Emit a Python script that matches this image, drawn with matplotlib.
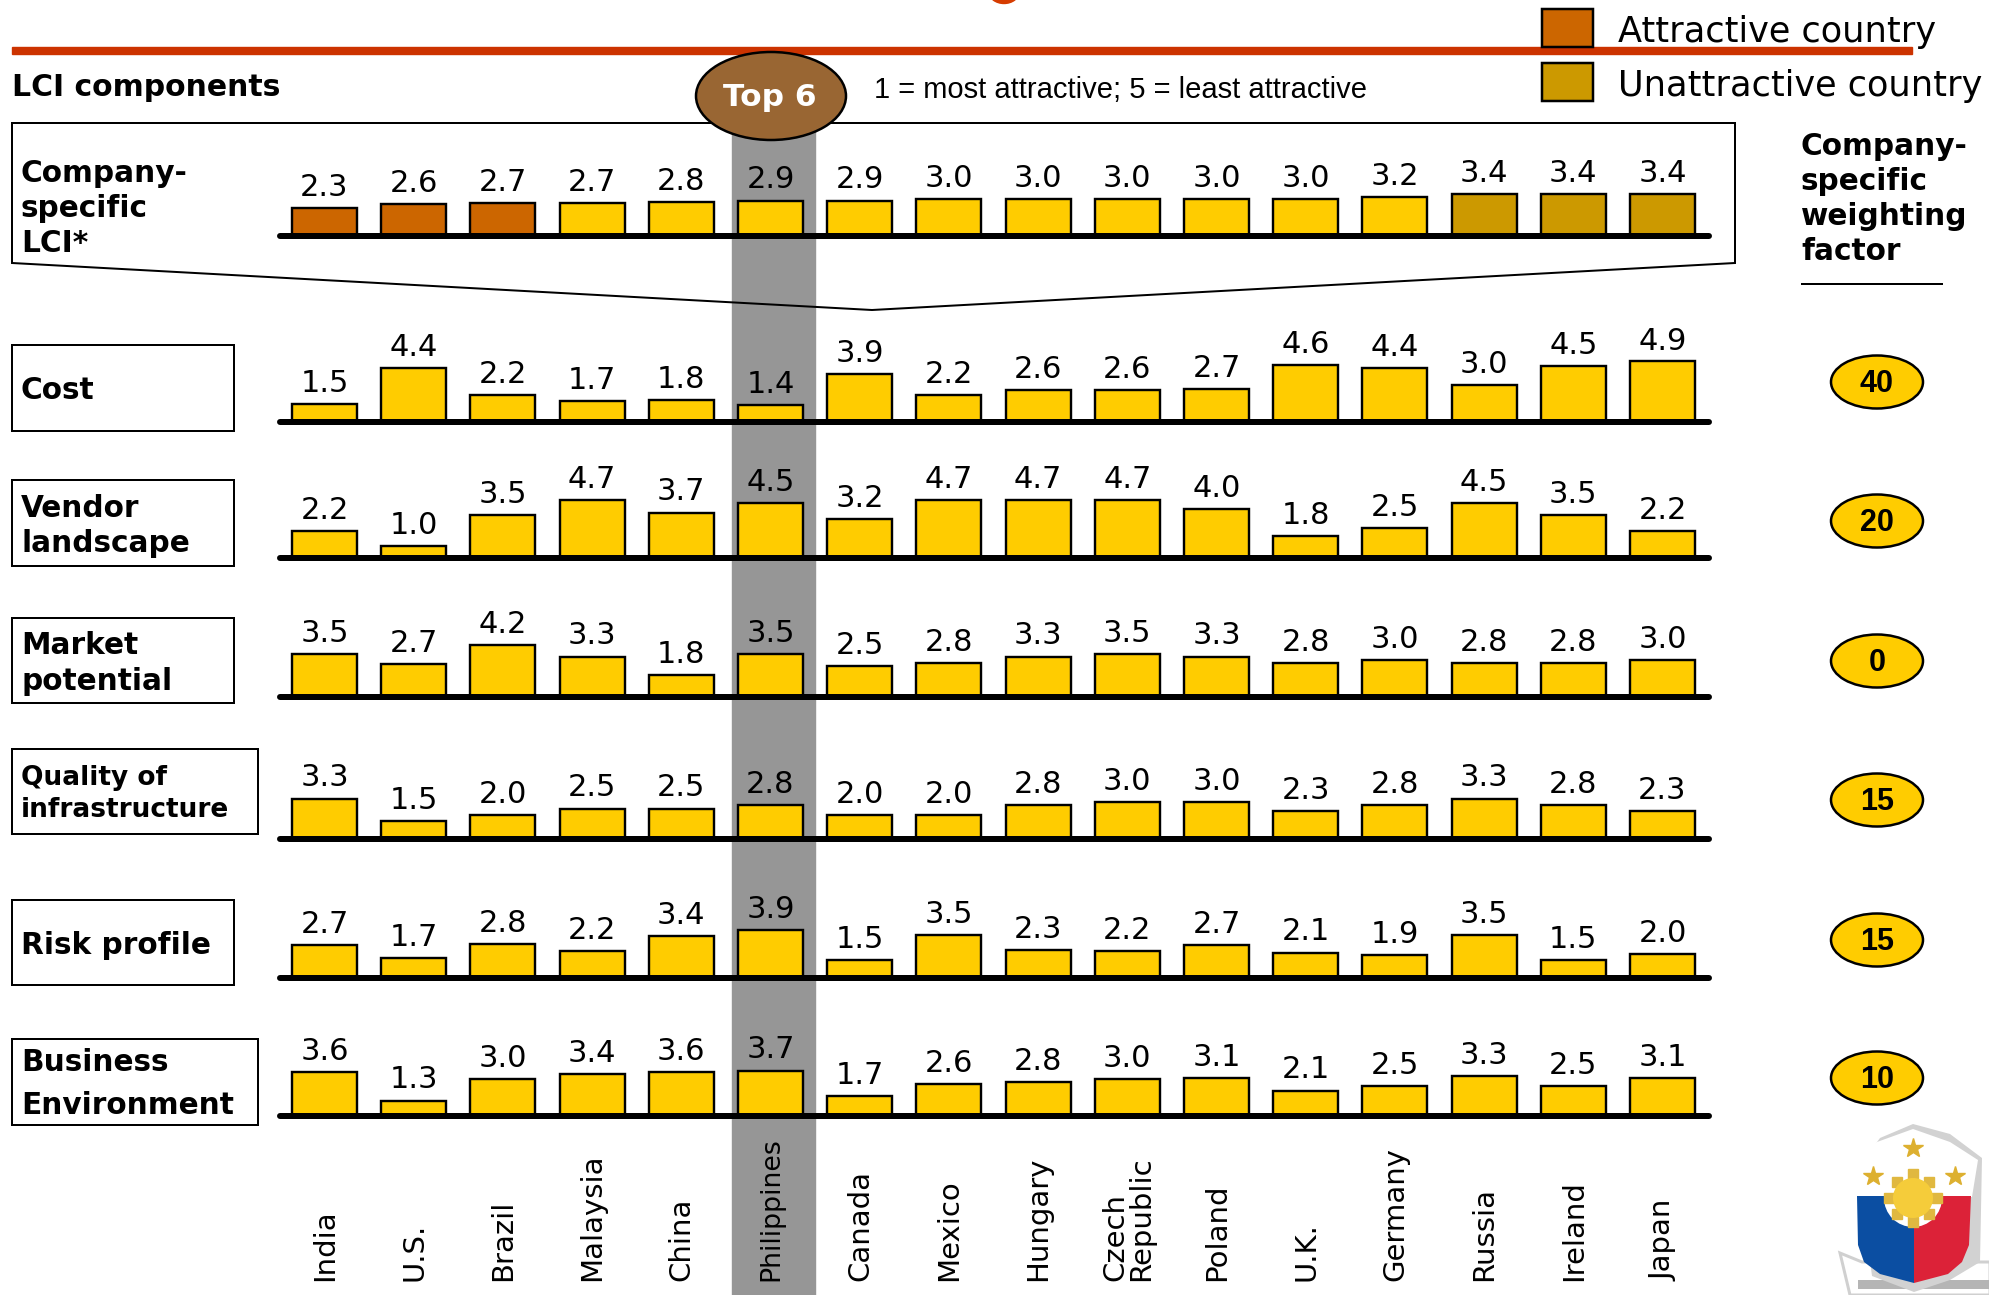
import matplotlib
matplotlib.use('Agg')
import matplotlib.pyplot as plt
from matplotlib.patches import Ellipse, Polygon, Rectangle, Circle

countries = ['India', 'U.S.', 'Brazil', 'Malaysia', 'China', 'Philippines', 'Canada', 'Mexico',
             'Hungary', 'Czech\nRepublic', 'Poland', 'U.K.', 'Germany', 'Russia', 'Ireland', 'Japan']
attractive = ['India', 'U.S.', 'Brazil']
unattractive = ['Russia', 'Ireland', 'Japan']

lci = [2.3, 2.6, 2.7, 2.7, 2.8, 2.9, 2.9, 3.0, 3.0, 3.0, 3.0, 3.0, 3.2, 3.4, 3.4, 3.4]
cost = [1.5, 4.4, 2.2, 1.7, 1.8, 1.4, 3.9, 2.2, 2.6, 2.6, 2.7, 4.6, 4.4, 3.0, 4.5, 4.9]
vendor = [2.2, 1.0, 3.5, 4.7, 3.7, 4.5, 3.2, 4.7, 4.7, 4.7, 4.0, 1.8, 2.5, 4.5, 3.5, 2.2]
market = [3.5, 2.7, 4.2, 3.3, 1.8, 3.5, 2.5, 2.8, 3.3, 3.5, 3.3, 2.8, 3.0, 2.8, 2.8, 3.0]
infra = [3.3, 1.5, 2.0, 2.5, 2.5, 2.8, 2.0, 2.0, 2.8, 3.0, 3.0, 2.3, 2.8, 3.3, 2.8, 2.3]
risk = [2.7, 1.7, 2.8, 2.2, 3.4, 3.9, 1.5, 3.5, 2.3, 2.2, 2.7, 2.1, 1.9, 3.5, 1.5, 2.0]
business = [3.6, 1.3, 3.0, 3.4, 3.6, 3.7, 1.7, 2.6, 2.8, 3.0, 3.1, 2.1, 2.5, 3.3, 2.5, 3.1]
weights = ['40', '20', '0', '15', '15', '10']

YELLOW = '#FFCC00'
ORANGE = '#CC6600'
DARK = '#CC9900'
W, H = 1990, 1295
PT = 72 / 100  # one pixel in points

fig = plt.figure(figsize=(W / 100, H / 100), dpi=100)
bg = fig.add_axes([0, 0, 1, 1])
bg.set_xlim(0, W)
bg.set_ylim(H, 0)
bg.axis('off')


def bars(values, base, colors=None):
    # base is the pixel row of the thick axis line
    ax = fig.add_axes([280 / W, 1 - (base - 3) / H, (1709 - 280) / W, 90 / H])
    ax.patch.set_alpha(0)
    ax.set_xlim((280 - 324.5) / 89.2, (1709 - 324.5) / 89.2)
    ax.set_ylim(0.3, 0.3 + 90 / 12.5)
    for s in ['top', 'left', 'right']:
        ax.spines[s].set_visible(False)
    ax.spines['bottom'].set_linewidth(6 * PT)
    ax.spines['bottom'].set_capstyle('round')
    ax.spines['bottom'].set_position(('outward', 3 * PT))
    ax.set_xticks([])
    ax.set_yticks([])
    ax.bar(range(len(values)), values, width=0.73, color=colors or YELLOW,
           edgecolor='black', linewidth=2.4 * PT)
    for i, v in enumerate(values):
        ax.annotate('%.1f' % v, (i, v), xytext=(0, 12 * PT), textcoords='offset points',
                    ha='center', va='baseline', fontsize=22, color='black', annotation_clip=False)


# band and rules
bg.add_patch(Rectangle((732, 130), 83, H - 130, color='#969696', zorder=1))
bg.add_patch(Rectangle((12, 47), 1900, 6.5, color='#CC3300', zorder=2))
bg.add_patch(Ellipse((1004, -8), 30, 23, color='#D63C00', zorder=2))

# company specific box
bg.add_patch(Polygon([(12, 123), (1735, 123), (1735, 263), (872, 310), (12, 263)],
                     closed=True, fill=False, edgecolor='black', linewidth=2 * PT, zorder=2))
bg.add_patch(Ellipse((771, 96), 150, 88, facecolor='#996633', edgecolor='black',
                     linewidth=2.5 * PT, zorder=3))
bg.text(770, 98, 'Top 6', color='white', fontsize=22.5, fontweight='bold', ha='center', va='center', zorder=4)
bg.text(874, 98, '1 = most attractive; 5 = least attractive', family='Liberation Sans',
        fontsize=21, va='baseline', zorder=4)
bg.text(12, 96, 'LCI components', fontsize=21.5, fontweight='bold', va='baseline', zorder=4)

# legend
for y, c, t in [(9, ORANGE, 'Attractive country'), (63, DARK, 'Unattractive country')]:
    bg.add_patch(Rectangle((1542, y), 51, 38, facecolor=c, edgecolor='black', linewidth=2.5 * PT, zorder=4))
    bg.text(1618, y + 33, t, fontsize=25.3, va='baseline', zorder=4)

# row labels
boxes = [(12, 345, 222, 86), (12, 480, 222, 86), (12, 618, 222, 85),
         (12, 749, 246, 85), (12, 900, 222, 85), (12, 1039, 246, 86)]
for x, y, w, h in boxes:
    bg.add_patch(Rectangle((x, y), w, h, fill=False, edgecolor='black', linewidth=2 * PT, zorder=2))
for y, t in [(182, 'Company-'), (217, 'specific'), (252, 'LCI*'), (399, 'Cost'), (517, 'Vendor'), (552, 'landscape'),
             (654, 'Market'), (690, 'potential'), (1071, 'Business'), (1114, 'Environment'), (954, 'Risk profile')]:
    bg.text(21, y, t, fontsize=21.3, fontweight='bold', va='baseline', zorder=4)
for y, t in [(785, 'Quality of'), (817, 'infrastructure')]:
    bg.text(21, y, t, fontsize=19, fontweight='bold', va='baseline', zorder=4)

# weighting column
for y, t in [(155, 'Company-'), (190, 'specific'), (225, 'weighting'), (260, 'factor')]:
    bg.text(1801, y, t, fontsize=21.3, fontweight='bold', va='baseline', zorder=4)
bg.plot([1802, 1942], [284, 284], color='black', lw=2 * PT)
for y, t in zip([382, 521, 661, 800, 940, 1078], weights):
    bg.add_patch(Ellipse((1877, y), 92, 53, facecolor=YELLOW, edgecolor='black', linewidth=2.5 * PT, zorder=3))
    bg.text(1877, y + 2, t, family='Liberation Sans', fontsize=22, fontweight='bold',
            ha='center', va='center', zorder=4)

# country names
for i, c in enumerate(countries):
    bg.text(325 + 89.2 * i, 1281, c, rotation=90, fontsize=19.3 if c == 'Philippines' else 21,
            ha='center', va='bottom', multialignment='left', linespacing=0.9, zorder=4)

# seal
bg.add_patch(Polygon([(1840, 1253), (1862, 1262), (1990, 1262), (1990, 1295), (1850, 1295)], closed=True,
                     facecolor='white', edgecolor='#D0D0D0', linewidth=3 * PT, zorder=2))
bg.add_patch(Rectangle((1858, 1280), 132, 9, facecolor='#B5B5B5', edgecolor='none', zorder=2))
bg.add_patch(Polygon([(1858, 1168), (1880, 1138), (1913, 1124), (1950, 1134), (1982, 1158), (1980, 1262),
                      (1950, 1280), (1914, 1292), (1872, 1276)], closed=True,
                     facecolor='#D2D2D2', edgecolor='none', zorder=3))
bg.add_patch(Polygon([(1850, 1160), (1877, 1142), (1913, 1129), (1950, 1142), (1978, 1160), (1972, 1197),
                      (1857, 1197)], closed=True, facecolor='white', edgecolor='none', zorder=4))
bg.add_patch(Polygon([(1857, 1196), (1914, 1196), (1914, 1283), (1880, 1274), (1864, 1262), (1858, 1245)], closed=True,
                     facecolor='#0B4EA2', edgecolor='none', zorder=4))
bg.add_patch(Polygon([(1914, 1196), (1971, 1196), (1969, 1245), (1962, 1262), (1948, 1274), (1914, 1283)], closed=True,
                     facecolor='#DC2238', edgecolor='none', zorder=4))
bg.add_patch(Circle((1913, 1198), 29, facecolor='white', edgecolor='none', zorder=5))
bg.plot([1913, 1913, 1897, 1929, 1889, 1937, 1897, 1929], [1174, 1222, 1182, 1182, 1198, 1198, 1214, 1214],
        ls='none', marker='s', ms=7, color='#E0B840', zorder=6)
bg.add_patch(Circle((1913, 1198), 20, facecolor='#F5CC3A', edgecolor='none', zorder=7))
bg.plot([1913, 1873, 1955], [1148, 1176, 1176], ls='none', marker='*', ms=15, color='#DDB030', zorder=6)

# bar rows
lci_colors = [ORANGE if c in attractive else DARK if c in unattractive else YELLOW for c in countries]
bars(lci, 236, lci_colors)
for values, base in zip([cost, vendor, market, infra, risk, business], [422, 558, 697, 839, 978, 1116]):
    bars(values, base)

fig.savefig('out.png', dpi=100)
